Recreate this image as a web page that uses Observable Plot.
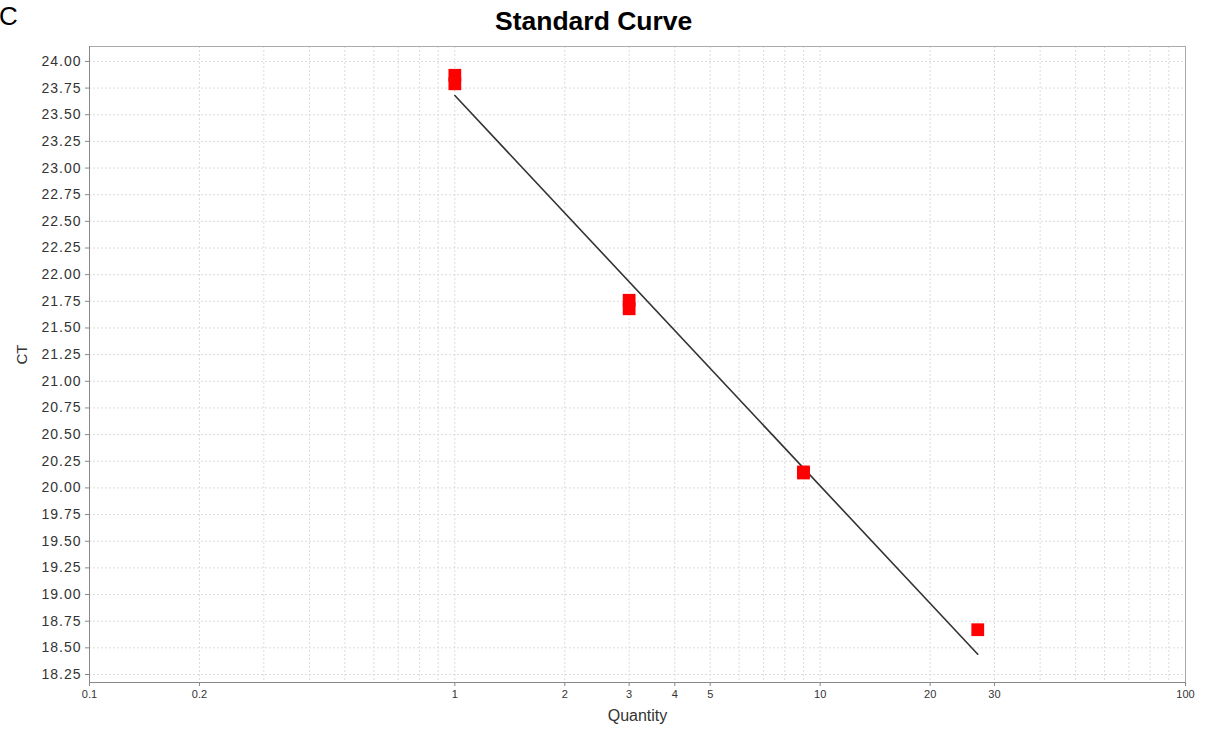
<!DOCTYPE html>
<html>
<head>
<meta charset="utf-8">
<script src="https://cdn.jsdelivr.net/npm/d3@7"></script>
<script src="https://cdn.jsdelivr.net/npm/@observablehq/plot@0.6"></script>
<style>
  html, body { margin: 0; padding: 0; background: #fff; }
  #wrap { position: relative; width: 1208px; height: 731px; font-family: "Liberation Sans", Arial, sans-serif; }
  #panel { position: absolute; left: -1px; top: 1px; font-size: 26px; color: #000; }
  #title { position: absolute; left: 495px; top: 6px; font-size: 26.5px; font-weight: bold; color: #000; white-space: nowrap; }
  #chart { position: absolute; left: 0; top: 0; }
  .ylab text { letter-spacing: 1px; }
</style>
</head>
<body>
<div id="wrap">
  <div id="chart"></div>
  <div id="panel">C</div>
  <div id="title">Standard Curve</div>
</div>
<script>
// Data
const pointQuantity = [1, 1, 3, 3, 9, 9, 27];
const pointCt = [23.87, 23.79, 21.76, 21.68, 20.15, 20.14, 18.67];
const fitQuantity = [1, 27];
const fitCt = [23.68, 18.44];

const xDomain = [0.1, 100];
const yDomain = [18.175, 24.14];
const xTickValues = [0.1, 0.2, 1, 2, 3, 4, 5, 10, 20, 30, 100];
const xTickLabels = ["0.1", "0.2", "1", "2", "3", "4", "5", "10", "20", "30", "100"];
const xGridValues = [0.1,0.2,0.3,0.4,0.5,0.6,0.7,0.8,0.9,1,2,3,4,5,6,7,8,9,10,20,30,40,50,60,70,80,90,100];
const yTickValues = d3.range(0, 24).map(i => 18.25 + i * 0.25);

const points = pointQuantity.map((q, i) => ({q, ct: pointCt[i]}));
const fit = fitQuantity.map((q, i) => ({q, ct: fitCt[i]}));
const xTicks = xTickValues.map((v, i) => ({v, label: xTickLabels[i]}));

const chart = Plot.plot({
  width: 1208,
  height: 731,
  marginLeft: 89,
  marginRight: 23,
  marginTop: 46,
  marginBottom: 49,
  style: {fontFamily: '"Liberation Sans", Arial, sans-serif', background: "transparent", color: "#333"},
  x: {type: "log", domain: xDomain},
  y: {domain: yDomain},
  marks: [
    Plot.gridX(xGridValues, {stroke: "#dcdcdc", strokeOpacity: 1, strokeDasharray: "2,2"}),
    Plot.gridY(yTickValues, {stroke: "#dcdcdc", strokeOpacity: 1, strokeDasharray: "2,2"}),
    Plot.frame({stroke: "#aaa"}),
    Plot.ruleX([xDomain[0]], {stroke: "#888"}),
    Plot.ruleY([yDomain[0]], {stroke: "#888"}),
    Plot.axisX(xTickValues, {tickSize: 4, stroke: "#888", text: null, label: null}),
    Plot.text(xTicks, {x: "v", text: "label", frameAnchor: "bottom", dy: 15, fontSize: 11, fill: "#333"}),
    Plot.axisY(yTickValues, {tickSize: 4, tickPadding: 4, fontSize: 14, stroke: "#888", fill: "#333",
      tickFormat: d3.format(".2f"), label: null, className: "ylab"}),
    Plot.text(["Quantity"], {frameAnchor: "bottom", dy: 38, fontSize: 16, fill: "#333"}),
    Plot.text(["CT"], {frameAnchor: "left", dx: -67, rotate: -90, fontSize: 15, fill: "#333"}),
    Plot.line(fit, {x: "q", y: "ct", stroke: "#333", strokeWidth: 1.6}),
    Plot.dot(points, {x: "q", y: "ct", symbol: "square", r: 7.2, fill: "#f00", stroke: "none"})
  ]
});
document.getElementById("chart").appendChild(chart);
</script>
</body>
</html>
